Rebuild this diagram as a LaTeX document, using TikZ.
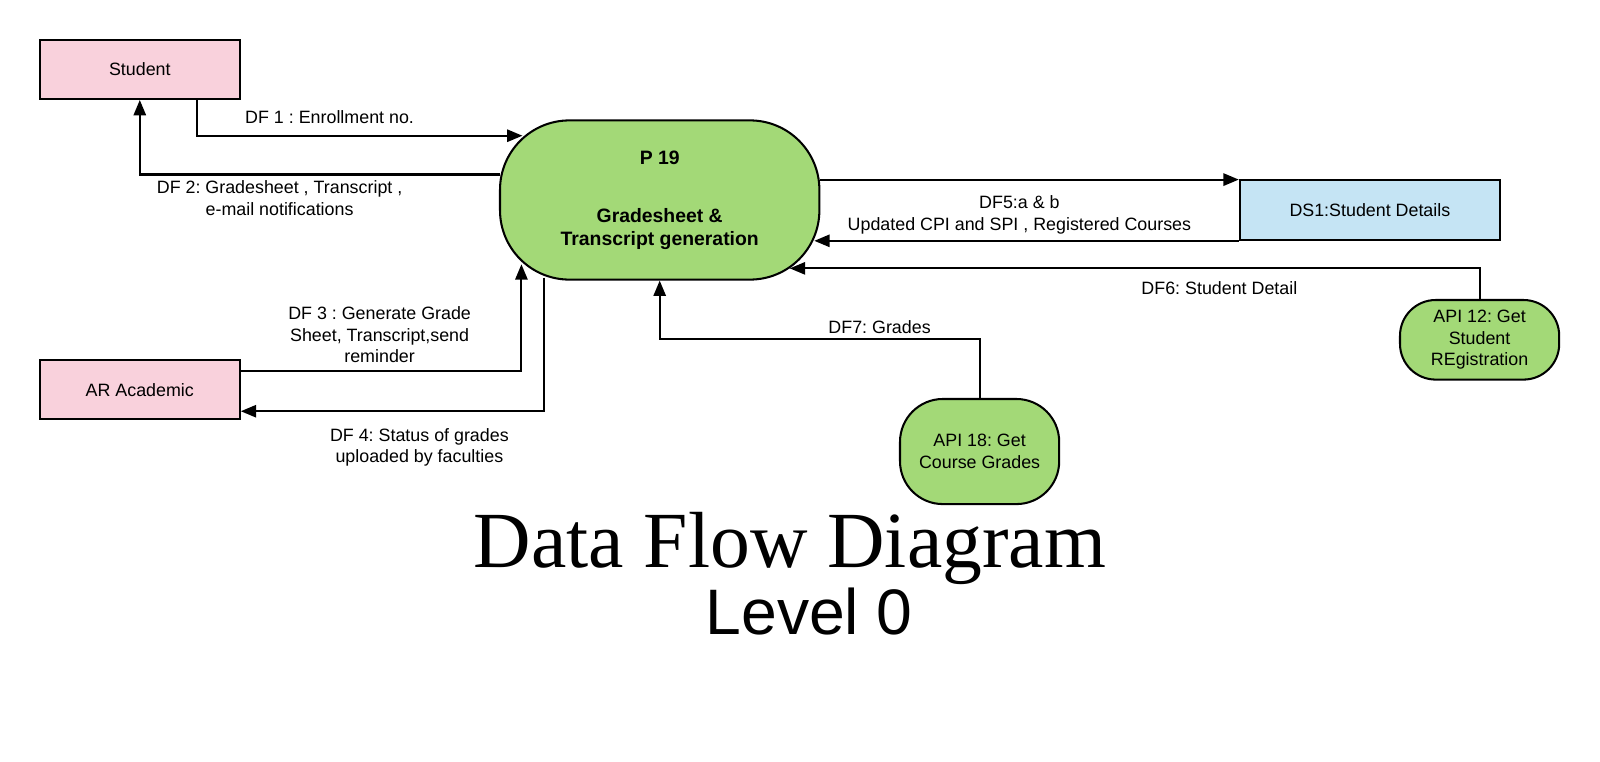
\documentclass[tikz,border=0pt]{standalone}
\usepackage{fontspec}
\setmainfont{Liberation Sans}
\newfontfamily\titleserif{Liberation Serif}
\usetikzlibrary{arrows.meta,calc}
\definecolor{pinkfill}{HTML}{F9D1DC}
\definecolor{greenfill}{HTML}{A3D977}
\definecolor{bluefill}{HTML}{C5E4F4}
\frenchspacing
\begin{document}
\frenchspacing
\begin{tikzpicture}[x=1pt,y=-1pt,line width=2pt,
  lbl/.style={font=\frenchspacing\fontsize{17.5}{21}\selectfont, align=center, inner sep=0pt},
  entity/.style={draw, fill=pinkfill, minimum width=196pt, minimum height=58pt, inner sep=0pt, font=\fontsize{17.5}{21}\selectfont},
  procbox/.style={draw, fill=greenfill, minimum width=313pt, minimum height=156pt, rounded corners=68pt, inner sep=0pt, align=center, font=\bfseries\fontsize{19}{22}\selectfont},
  store/.style={draw, fill=bluefill, minimum width=255pt, minimum height=59pt, inner sep=0pt, font=\fontsize{17.5}{21}\selectfont},
  api/.style={draw, fill=greenfill, minimum width=156pt, inner sep=0pt, align=center, font=\frenchspacing\fontsize{17.5}{21}\selectfont},
  flow/.style={draw, -{Triangle[length=15pt,width=12pt]}}]
\fill[white] (0,0) rectangle (1568,746.7);
\useasboundingbox (0,0) rectangle (1568,746.7);

\node[entity] (S) at (137,68) {Student};
\node[entity] (R) at (137,382) {AR Academic};
\node[procbox] (P) at (646.5,196) {P 19\\[35pt]Gradesheet \&\\Transcript generation};
\node[store] (D) at (1342.5,205.5) {DS1:Student Details};
\node[api, minimum height=78pt, rounded corners=35pt] (A12) at (1450,333) {API 12: Get\\Student\\REgistration};
\node[api, minimum height=103pt, rounded corners=42pt] (A18) at (960,442.5) {API 18: Get\\Course Grades};

\coordinate (p1) at ($(P.north west)+(23,16)$);
\coordinate (p2) at ($(P.north west)+(1,54)$);
\coordinate (p3) at ($(P.south west)+(22,-16)$);
\coordinate (p4) at ($(P.south west)+(44,-3)$);
\coordinate (p5) at ($(P.north east)+(0,59)$);
\coordinate (p6) at ($(P.south east)+(-6,-39)$);
\coordinate (p7) at ($(P.south east)+(-30,-12)$);

\draw[flow] ($(S.south)+(56,0)$) |- (p1);
\draw[flow] (p2) -| (S.south);
\draw[flow] ($(R.east)+(0,-18)$) -| (p3);
\draw[flow] (p4) |- ($(R.east)+(0,21)$);
\draw[flow] (p5) -- (p5 -| D.west);
\draw[flow] (D.south west) -- (p6);
\draw[flow] (A12.north) |- (p7);
\draw[flow] (A18.north) -- ++(0,-58) -| (P.south);

\node[lbl] (l1) at (323,115) {DF 1 : Enrollment no.};
\node[lbl] (l2) at (274,194) {DF 2: Gradesheet , Transcript ,\\e-mail notifications};
\node[lbl] (l3) at (372,328) {DF 3 : Generate Grade\\Sheet, Transcript,send\\reminder};
\node[lbl] (l4) at (411,438.5) {DF 4: Status of grades\\uploaded by faculties};
\node[lbl] (l5) at (999,210.5) {DF5:a \& b\\Updated CPI and SPI , Registered Courses};
\node[lbl] (l6) at (1195,282) {DF6: Student Detail};
\node[lbl] (l7) at (862,321) {DF7: Grades};

\node[anchor=base, inner sep=0pt, font=\titleserif\fontsize{78}{80}\selectfont] (T) at (774,556) {Data Flow Diagram};
\node[anchor=base, inner sep=0pt, font=\fontsize{63}{66}\selectfont] (L) at (793,622) {Level 0};
\end{tikzpicture}
\end{document}
